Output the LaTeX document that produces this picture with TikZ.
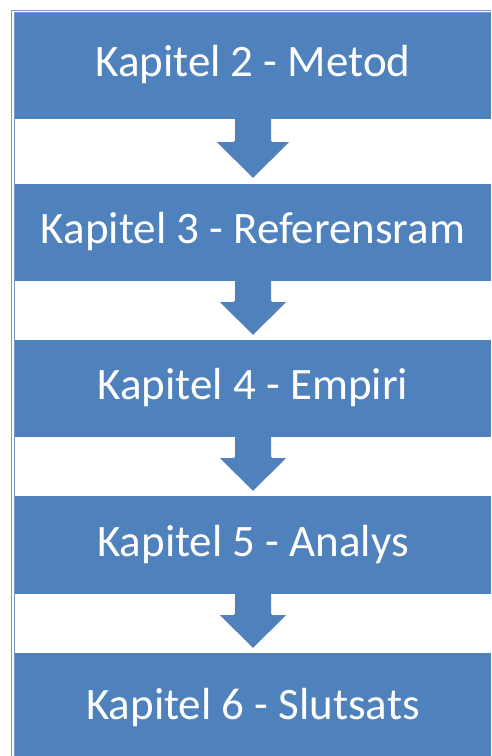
\documentclass[tikz,border=0pt]{standalone}
\usepackage{fontspec}
\setmainfont{Carlito}
\usetikzlibrary{calc}
\definecolor{boxblue}{RGB}{79,129,189}
\definecolor{framecol}{RGB}{118,152,204}

% downward block arrow between two chapter boxes:
% #1 upper box, #2 lower box, #3 shaft length, #4 head half width, #5 gap above lower box
\newcommand\chaparrow[5]{%
  \fill[boxblue, rounded corners=1.5pt]
    ($(#1.south)+(-18,0)$) -- ($(#1.south)+(-18,#3)$)
    [sharp corners] -- ($(#1.south)+(-#4,#3)$)
    -- ($(#2.north)+(0,-#5)$)
    -- ($(#1.south)+(#4,#3)$)
    [rounded corners=1.5pt] -- ($(#1.south)+(18,#3)$)
    [sharp corners] -- ($(#1.south)+(18,0)$) -- cycle;}

\tikzset{
  chapbox/.style={fill=boxblue, draw=none, minimum width=476pt, inner sep=0pt,
    text=white, font=\fontsize{45}{54}\selectfont,
    text height=31pt, text depth=9pt},
  framestyle/.style={draw=framecol, line width=0.8pt}
}

\begin{document}
\begin{tikzpicture}[x=1pt,y=-1pt]
\useasboundingbox (0,0) rectangle (491,756);
\clip (0,0) rectangle (491,756);
\fill[white] (0,0) rectangle (491,756);

% double frame around the flow
\draw[framestyle] (11.5,770) -- (11.5,10) -- (500,10);
\draw[framestyle] (14.2,770) -- (14.2,12.7) -- (500,12.7);

% chapter boxes
\node[chapbox, minimum height=106pt, text height=29pt] (b1) at (253,66) {Kapitel 2 - Metod};
\node[chapbox, minimum height=97pt] (b2) at (253,232.5) {Kapitel 3 - Referensram};
\node[chapbox, minimum height=97pt] (b3) at (253,388.5) {Kapitel 4 - Empiri};
\node[chapbox, minimum height=98pt] (b4) at (253,545) {Kapitel 5 - Analys};
\node[chapbox, minimum height=110pt] (b5) at (253,708) {Kapitel 6 - Slutsats};

% arrows between consecutive boxes
\chaparrow{b1}{b2}{23}{36}{6}
\chaparrow{b2}{b3}{21}{33}{5}
\chaparrow{b3}{b4}{21}{33}{5}
\chaparrow{b4}{b5}{21}{33}{5}
\end{tikzpicture}
\end{document}
